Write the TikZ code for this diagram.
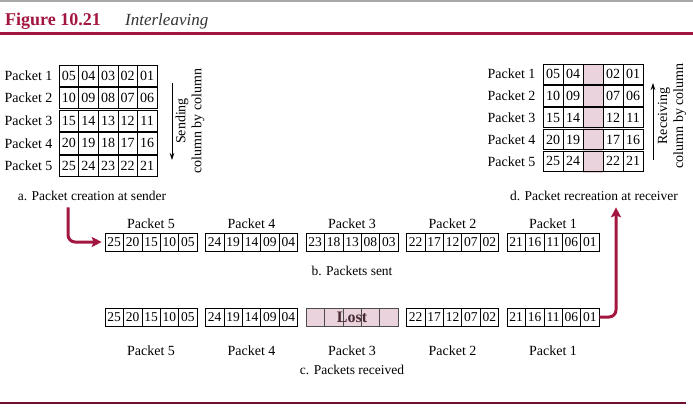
\documentclass[tikz,border=0pt]{standalone}
\usepackage{fontspec}
\setmainfont{Liberation Serif}
\usetikzlibrary{arrows.meta,positioning,calc}
\definecolor{figred}{HTML}{A3163F}
\definecolor{lostpink}{HTML}{EAD3DD}
\definecolor{rulegray}{HTML}{A8A8A8}
\newcommand{\lblfont}{\fontsize{14}{16}\selectfont}

\begin{document}
\begin{tikzpicture}[x=1pt, y=-1pt,
    cell/.style={draw, line width=0.6pt, minimum width=19.6pt,
                 minimum height=21pt, inner sep=0pt, font=\lblfont},
    dcell/.style={cell, minimum width=20pt, minimum height=20.2pt},
    pcell/.style={draw, line width=0.6pt, minimum width=18.4pt,
                  minimum height=18pt, inner sep=0pt,
                  font=\fontsize{13.5}{16}\selectfont},
    lostcell/.style={pcell, fill=lostpink, draw=black!70},
    rowlbl/.style={anchor=east, font=\lblfont},
    plbl/.style={font=\lblfont},
    subcap/.style={font=\fontsize{13.5}{16}\selectfont},
    side/.style={-{Stealth[length=7pt,width=4.5pt]}, line width=0.7pt},
    flow/.style={-{Stealth[length=10pt,width=10pt,inset=2pt]},
                 line width=3pt, figred, rounded corners=7pt}
  ]
  \useasboundingbox (0,0) rectangle (693,409);

  % Header
  \draw[rulegray, line width=2pt] (0,1.5) -- (693,1.5);
  \node[anchor=base west, inner sep=0pt, text=figred,
        font=\fontsize{18}{20}\selectfont\bfseries] (fig) at (5,26) {Figure 10.21};
  \node[anchor=base west, inner sep=0pt, text=black!80,
        font=\fontsize{17}{20}\selectfont\itshape] (ttl) at (125,26) {Interleaving};
  \draw[figred, line width=3pt] (0,34) -- (693,34);

  % a. sender
  \foreach \vals [count=\r] in {{05,04,03,02,01},{10,09,08,07,06},
      {15,14,13,12,11},{20,19,18,17,16},{25,24,23,22,21}} {
    \node[rowlbl] (la\r) at (56, {75.5+22.6*(\r-1)}) {Packet \r};
    \foreach \v [count=\c] in \vals
      \node[cell] (a\r-\c) at ({68.8+19.6*(\c-1)}, {75.5+22.6*(\r-1)}) {\v};
  }
  \coordinate (sendtop) at (172,83);
  \coordinate (sendbot) at (172,160);
  \draw[side] (sendtop) -- (sendbot);
  \node[rotate=90, align=center, font=\lblfont, inner sep=0pt] (sendtxt)
    at (190,121) {Sending\\column by column};
  \node[subcap] (capA) at (92,196) {a. Packet creation at sender};

  % d. receiver
  \fill[lostpink] (583,64) rectangle (603,173);
  \foreach \vals [count=\r] in {{05,04,,02,01},{10,09,,07,06},
      {15,14,,12,11},{20,19,,17,16},{25,24,,22,21}} {
    \node[rowlbl] (ld\r) at (539, {74.1+21.8*(\r-1)}) {Packet \r};
    \foreach \v [count=\c] in \vals
      \node[dcell] (d\r-\c) at ({553+20*(\c-1)}, {74.1+21.8*(\r-1)}) {\v};
  }
  \coordinate (recvbot) at (653,160);
  \coordinate (recvtop) at (653,83);
  \draw[side] (recvbot) -- (recvtop);
  \node[rotate=90, align=center, font=\lblfont, inner sep=0pt] (recvtxt)
    at (672,116) {Receiving\\column by column};
  \node[subcap] (capD) at (594,196) {d. Packet recreation at receiver};

  % b. packets sent
  \foreach \vals [count=\g, evaluate=\g as \p using int(6-\g)] in
      {{25,20,15,10,05},{24,19,14,09,04},{23,18,13,08,03},
       {22,17,12,07,02},{21,16,11,06,01}} {
    \foreach \v [count=\c] in \vals
      \node[pcell] (s\p-\c) at ({114.2+100.5*(\g-1)+18.4*(\c-1)}, 242) {\v};
    \node[plbl, above=1pt of s\p-3] (ls\p) {Packet \p};
  }
  \node[subcap] (capB) at (352,271) {b. Packets sent};

  % c. packets received
  \foreach \vals [count=\g, evaluate=\g as \p using int(6-\g)] in
      {{25,20,15,10,05},{24,19,14,09,04},{,,,,},
       {22,17,12,07,02},{21,16,11,06,01}} {
    \ifnum\p=3
      \foreach \c in {1,...,5}
        \node[lostcell] (r\p-\c) at ({114.2+100.5*(\g-1)+18.4*(\c-1)}, 317) {};
    \else
      \foreach \v [count=\c] in \vals
        \node[pcell] (r\p-\c) at ({114.2+100.5*(\g-1)+18.4*(\c-1)}, 317) {\v};
    \fi
    \node[plbl, below=16pt of r\p-3] (lr\p) {Packet \p};
  }
  \node[font=\fontsize{16}{18}\selectfont\bfseries, text=figred!25!black!85,
        inner sep=0pt] (lost) at (r3-3) {Lost};
  \node[subcap] (capC) at (352,370) {c. Packets received};

  % Flow arrows
  \draw[flow, shorten <=3pt, shorten >=3pt] ([xshift=-24pt]capA.south) |- (s5-1.west);
  \draw[flow, shorten >=3pt] (r1-5.east) -| ([xshift=22pt]capD.south);

  \draw[figred!70!black, line width=1.2pt] (0,403) -- (686,403);
\end{tikzpicture}
\end{document}
